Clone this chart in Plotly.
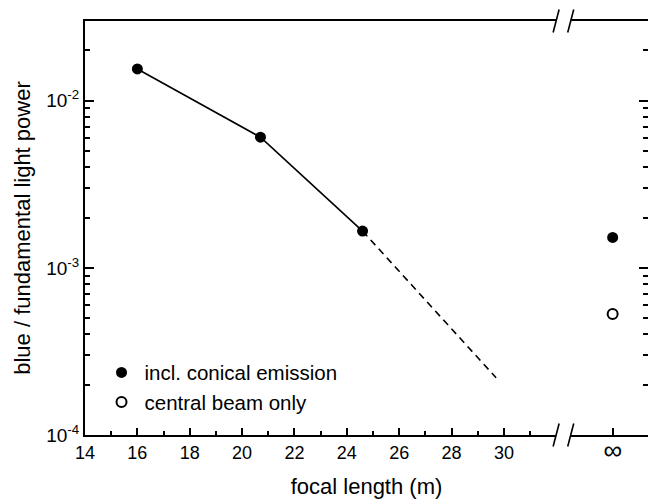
import math
import plotly.graph_objects as go

# ---- data ----
focal_conical = [16.0, 20.7, 24.6]          # m
power_conical = [1.55e-2, 6.05e-3, 1.66e-3]
power_conical_inf = [1.52e-3]               # at f = infinity
power_central_inf = [5.3e-4]                # at f = infinity (central beam only)
extrap_focal = [24.6, 29.7]
extrap_power = [1.66e-3, 2.2e-4]

x_major_ticks = [14, 16, 18, 20, 22, 24, 26, 28, 30]
x_minor_ticks = [15, 17, 19, 21, 23, 25, 27, 29, 31]
y_major_ticks = [1e-4, 1e-3, 1e-2]
y_tick_text = ["10<sup>-4</sup>", "10<sup>-3</sup>", "10<sup>-2</sup>"]
y_minor_ticks = [m * 10 ** e for e in (-4, -3, -2) for m in range(2, 10) if m * 10 ** e < 0.03]

# ---- layout geometry ----
W, H = 648, 499
ML, MR, MT, MB = 85, 0, 21, 64
X_RANGE = [14, 35.5]
Y_RANGE = [-4, math.log10(0.03)]
INF_POS = 34.15          # where the "infinity" column sits on the broken axis
BREAK_POS = 32.27        # axis break location
PW, PH = W - ML - MR, H - MT - MB

def xpaper(v):
    return (v - X_RANGE[0]) / (X_RANGE[1] - X_RANGE[0])

FONT = "Liberation Sans, Arial, sans-serif"

fig = go.Figure()
fig.add_trace(go.Scatter(x=focal_conical, y=power_conical, mode="lines",
                         line=dict(color="black", width=1.6), showlegend=False,
                         hoverinfo="skip"))
fig.add_trace(go.Scatter(x=extrap_focal, y=extrap_power, mode="lines",
                         line=dict(color="black", width=1.6, dash="7px,5px"),
                         showlegend=False, hoverinfo="skip"))
fig.add_trace(go.Scatter(x=focal_conical + [INF_POS] * len(power_conical_inf),
                         y=power_conical + power_conical_inf, mode="markers",
                         marker=dict(symbol="circle", size=11, color="black"),
                         name="incl. conical emission"))
fig.add_trace(go.Scatter(x=[INF_POS] * len(power_central_inf), y=power_central_inf,
                         mode="markers",
                         marker=dict(symbol="circle-open", size=10, color="black",
                                     line=dict(width=2, color="black")),
                         name="central beam only"))
# invisible trace to carry right-side ticks
fig.add_trace(go.Scatter(x=[None], y=[None], yaxis="y2", showlegend=False))

fig.update_layout(
    width=W, height=H,
    margin=dict(l=ML, r=MR, t=MT, b=MB, pad=0),
    paper_bgcolor="white", plot_bgcolor="white",
    font=dict(family=FONT, size=19, color="black"),
    showlegend=True,
    legend=dict(x=0.024, y=0.199, xanchor="left", yanchor="top",
                bgcolor="rgba(0,0,0,0)", borderwidth=0, itemwidth=36,
                font=dict(size=20.5, family=FONT), tracegroupgap=0),
    xaxis=dict(range=X_RANGE, showgrid=False, zeroline=False,
               showline=True, linecolor="black", linewidth=2, mirror=True,
               ticks="inside", ticklen=7, tickwidth=1.5, tickcolor="black",
               tickmode="array", tickvals=x_major_ticks + [INF_POS],
               ticktext=[str(v) for v in x_major_ticks] + ["<span style='font-size:26px'>∞</span>"],
               tickfont=dict(size=18),
               minor=dict(tickmode="array", tickvals=x_minor_ticks, ticks="inside",
                          ticklen=4, tickwidth=1.5, tickcolor="black"),
               title=dict(text="focal length (m)", font=dict(size=22), standoff=15)),
    yaxis=dict(type="log", range=Y_RANGE, showgrid=False, zeroline=False,
               showline=True, linecolor="black", linewidth=2, mirror=False,
               ticks="inside", ticklen=9, tickwidth=1.5, tickcolor="black",
               tickmode="array", tickvals=y_major_ticks, ticktext=y_tick_text,
               tickfont=dict(size=19),
               minor=dict(tickmode="array", tickvals=y_minor_ticks, ticks="inside",
                          ticklen=5, tickwidth=1.5, tickcolor="black"),
               title=dict(text="blue / fundamental light power", font=dict(size=22),
                          standoff=10)),
    yaxis2=dict(type="log", range=Y_RANGE, overlaying="y", side="right",
                showgrid=False, zeroline=False, showline=False,
                ticks="inside", ticklen=9, tickwidth=1.5, tickcolor="black",
                tickmode="array", tickvals=y_major_ticks, showticklabels=False,
                minor=dict(tickmode="array", tickvals=y_minor_ticks, ticks="inside",
                           ticklen=5, tickwidth=1.5, tickcolor="black")),
)

# axis-break marks (//) on bottom and top axes
shapes = []
bx = xpaper(BREAK_POS)
gap = 7.3 / PW
sdx = 3.0 / PW
for yb in (0.0, 1.0):
    shapes.append(dict(type="rect", xref="paper", yref="paper",
                       x0=bx - gap, x1=bx + gap, y0=yb - 4 / PH, y1=yb + 4 / PH,
                       fillcolor="white", line=dict(width=0), layer="above"))
    for s in (-1, 1):
        cx = bx + s * gap
        shapes.append(dict(type="line", xref="paper", yref="paper",
                           x0=cx - sdx, x1=cx + sdx,
                           y0=yb - 11.5 / PH, y1=yb + 11.5 / PH,
                           line=dict(color="black", width=1.6), layer="above"))
fig.update_layout(shapes=shapes)

fig.write_html("out.html")
